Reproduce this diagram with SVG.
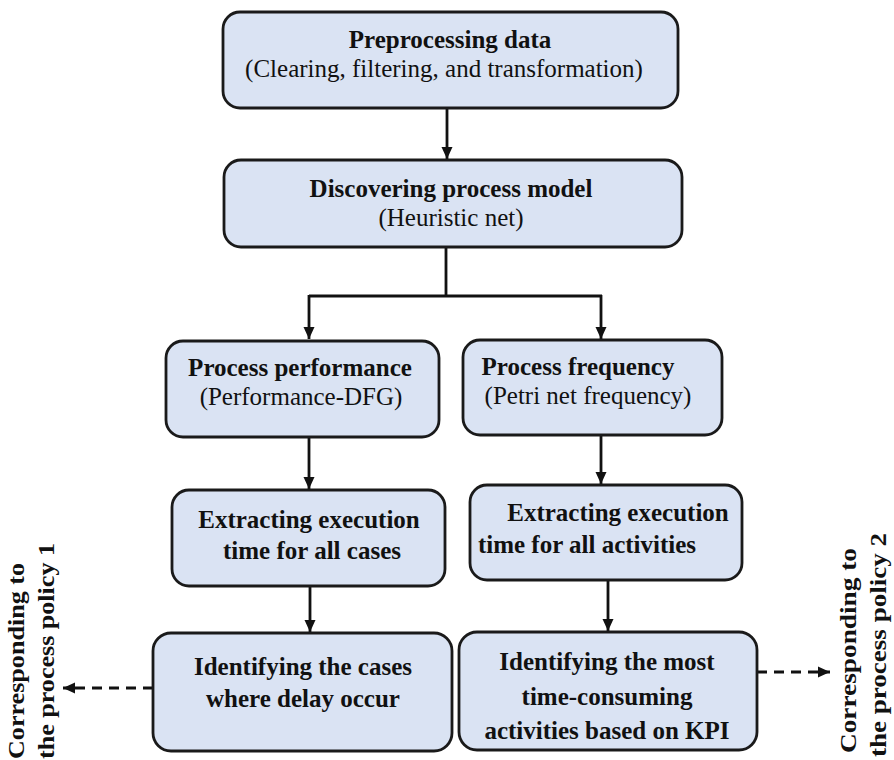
<svg xmlns="http://www.w3.org/2000/svg" width="894" height="760" viewBox="0 0 894 760">
  <style>
    .box { fill: #dae3f3; stroke: #1a1a1a; stroke-width: 2.8; }
    .b { font-family: "Liberation Serif", "Times New Roman", serif; font-weight: bold; font-size: 25px; fill: #111; text-anchor: middle; }
    .r { font-family: "Liberation Serif", "Times New Roman", serif; font-size: 25px; fill: #111; text-anchor: middle; }
    .side { font-family: "Liberation Serif", "Times New Roman", serif; font-weight: bold; font-size: 24px; fill: #111; }
    .conn { fill: none; stroke: #111; stroke-width: 2.8; }
    .dash { fill: none; stroke: #111; stroke-width: 3; stroke-dasharray: 10 7; }
  </style>
  <defs>
    <marker id="arr" markerUnits="userSpaceOnUse" markerWidth="14" markerHeight="14" viewBox="0 0 14 14" refX="13" refY="7" orient="auto">
      <path d="M1,1.5 L13,7 L1,12.5 Z" fill="#111"/>
    </marker>
  </defs>
  <rect width="894" height="760" fill="#ffffff"/>

  <g id="connectors">
    <path class="conn" d="M447,108 V159" marker-end="url(#arr)"/>
    <path class="conn" d="M446,247 V296 M309,296 H602"/>
    <path class="conn" d="M309,295 V339" marker-end="url(#arr)"/>
    <path class="conn" d="M601,295 V339" marker-end="url(#arr)"/>
    <path class="conn" d="M309,437 V489" marker-end="url(#arr)"/>
    <path class="conn" d="M601,435 V484" marker-end="url(#arr)"/>
    <path class="conn" d="M310,586 V632" marker-end="url(#arr)"/>
    <path class="conn" d="M608,580 V631" marker-end="url(#arr)"/>
    <path class="dash" d="M153,688 H63" marker-end="url(#arr)"/>
    <path class="dash" d="M757,672 H830" marker-end="url(#arr)"/>
  </g>

  <g id="preprocessing">
    <rect class="box" x="223" y="12" width="455" height="96" rx="17"/>
    <text class="b" x="450" y="48">Preprocessing data</text>
    <text class="r" x="444" y="77">(Clearing, filtering, and transformation)</text>
  </g>

  <g id="discovering">
    <rect class="box" x="224" y="160" width="458" height="87" rx="17"/>
    <text class="b" x="451" y="197">Discovering process model</text>
    <text class="r" x="451" y="226">(Heuristic net)</text>
  </g>

  <g id="performance">
    <rect class="box" x="166" y="341" width="273" height="96" rx="17"/>
    <text class="b" x="300" y="376">Process performance</text>
    <text class="r" x="301" y="405">(Performance-DFG)</text>
  </g>

  <g id="frequency">
    <rect class="box" x="463" y="340" width="259" height="95" rx="17"/>
    <text class="b" x="578" y="375">Process frequency</text>
    <text class="r" x="588" y="404">(Petri net frequency)</text>
  </g>

  <g id="extract-cases">
    <rect class="box" x="172" y="490" width="273" height="96" rx="17"/>
    <text class="b" x="309" y="528">Extracting execution</text>
    <text class="b" x="312" y="559">time for all cases</text>
  </g>

  <g id="extract-activities">
    <rect class="box" x="470" y="485" width="272" height="95" rx="17"/>
    <text class="b" x="618" y="521">Extracting execution</text>
    <text class="b" x="587" y="553">time for all activities</text>
  </g>

  <g id="identify-cases">
    <rect class="box" x="153" y="633" width="299" height="118" rx="18"/>
    <text class="b" x="303" y="675">Identifying the cases</text>
    <text class="b" x="303" y="707">where delay occur</text>
  </g>

  <g id="identify-activities">
    <rect class="box" x="459" y="632" width="298" height="118" rx="18"/>
    <text class="b" x="607" y="670">Identifying the most</text>
    <text class="b" x="607" y="705">time-consuming</text>
    <text class="b" x="607" y="739">activities based on KPI</text>
  </g>

  <g id="policy1">
    <text class="side" transform="translate(24,759) rotate(-90)" textLength="196" lengthAdjust="spacingAndGlyphs">Corresponding to</text>
    <text class="side" transform="translate(54,759) rotate(-90)" textLength="216" lengthAdjust="spacingAndGlyphs">the process policy 1</text>
  </g>

  <g id="policy2">
    <text class="side" transform="translate(856,753) rotate(-90)" textLength="205" lengthAdjust="spacingAndGlyphs">Corresponding to</text>
    <text class="side" transform="translate(886,757) rotate(-90)" textLength="224" lengthAdjust="spacingAndGlyphs">the process policy 2</text>
  </g>
</svg>
